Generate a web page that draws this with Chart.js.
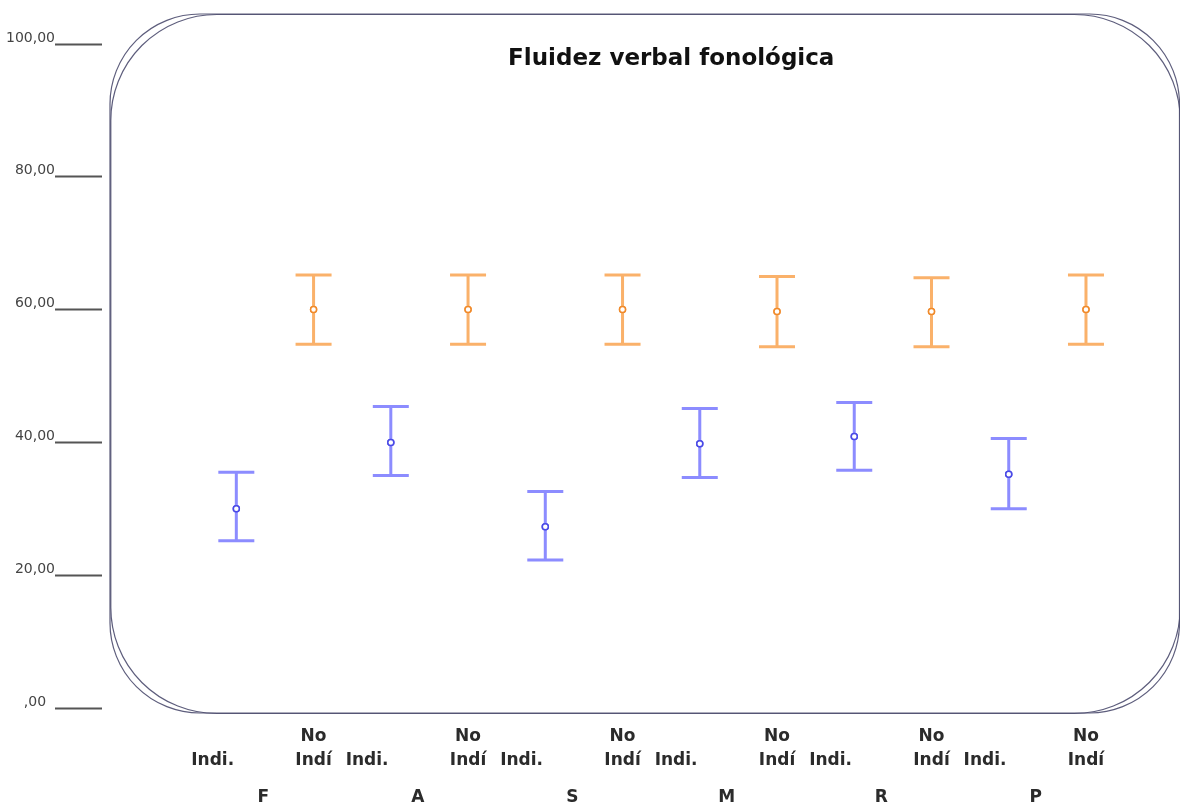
<!DOCTYPE html>
<html>
<head>
<meta charset="utf-8">
<script src="https://cdn.jsdelivr.net/npm/chart.js@4.4.0/dist/chart.umd.min.js"></script>
<style>
  html, body { margin: 0; padding: 0; background: #fff; }
  #wrap { width: 1180px; height: 807px; }
</style>
</head>
<body>
<div id="wrap"><canvas id="fluidezChart"></canvas></div>
<script>
// Chart values

const groups = ["F", "A", "S", "M", "R", "P"];
const conditions = ["Indi.", "No Indí"];
const yTicks = [0, 20, 40, 60, 80, 100];

// "Indi." series (blue)
const indiMean = [30.0, 40.0, 27.3, 39.8, 40.9, 35.2];
const indiLow = [25.2, 35.0, 22.3, 34.7, 35.8, 30.0];
const indiHigh = [35.5, 45.4, 32.6, 45.1, 46.0, 40.6];

// "No Indí" series (orange)
const noIndiMean = [60.0, 60.0, 60.0, 59.7, 59.7, 60.0];
const noIndiLow = [54.8, 54.8, 54.8, 54.4, 54.4, 54.8];
const noIndiHigh = [65.2, 65.2, 65.2, 65.0, 64.8, 65.2];

const COLORS = {
  blueBar: "rgba(120,120,255,0.85)",
  bluePoint: "#4a4ae6",
  orangeBar: "rgba(250,168,90,0.9)",
  orangePoint: "#f08a2a",
  frame: "rgba(75,75,110,0.9)",
  text: "#2b2b2b",
  axis: "#555",
};

const SANS = "'DejaVu Sans', Verdana, sans-serif";

function toPoints(means, offset) {
  return means.map((m, g) => ({ x: g * 2 + offset, y: m }));
}

// error bars drawn through the chart's own scales
const errorBarPlugin = {
  id: "errorBars",
  afterDatasetsDraw(chart) {
    const ctx = chart.ctx;
    const xs = chart.scales.x;
    const ys = chart.scales.y;
    const capHalf = 18;
    chart.data.datasets.forEach((ds) => {
      ctx.save();
      ctx.strokeStyle = ds.barColor;
      ctx.lineWidth = 3;
      ds.data.forEach((p, i) => {
        const px = xs.getPixelForValue(p.x);
        const yLo = ys.getPixelForValue(ds.low[i]);
        const yHi = ys.getPixelForValue(ds.high[i]);
        ctx.beginPath();
        ctx.moveTo(px, yLo);
        ctx.lineTo(px, yHi);
        ctx.moveTo(px - capHalf, yLo);
        ctx.lineTo(px + capHalf, yLo);
        ctx.moveTo(px - capHalf, yHi);
        ctx.lineTo(px + capHalf, yHi);
        ctx.stroke();
      });
      ctx.restore();
    });
    // redraw the centre points on top of the bars
    chart.data.datasets.forEach((ds, di) => {
      chart.getDatasetMeta(di).data.forEach((el) => el.draw(ctx));
    });
  },
};

// hand-drawn looking rounded frame plus the title
const framePlugin = {
  id: "frame",
  afterDraw(chart) {
    const ctx = chart.ctx;
    const ca = chart.chartArea;
    const l = ca.left + 8, t = ca.top - 30, r = ca.right + 5, b = ca.bottom + 5;
    ctx.save();
    ctx.strokeStyle = COLORS.frame;
    ctx.lineWidth = 1.2;
    [90, 106].forEach((rad, k) => {
      ctx.beginPath();
      ctx.roundRect(l + k * 0.8, t + k * 0.5, r - l, b - t, rad);
      ctx.stroke();
    });
    ctx.fillStyle = "#111";
    ctx.font = "bold 23px " + SANS;
    ctx.textAlign = "center";
    ctx.textBaseline = "middle";
    ctx.fillText("Fluidez verbal fonológica", (ca.left + ca.right) / 2 + 33, ca.top + 15);
    ctx.restore();
  },
};

const ctx = document.getElementById("fluidezChart").getContext("2d");

new Chart(ctx, {
  type: "scatter",
  data: {
    datasets: [
      {
        label: conditions[0],
        data: toPoints(indiMean, 0),
        low: indiLow,
        high: indiHigh,
        barColor: COLORS.blueBar,
        borderColor: COLORS.bluePoint,
        backgroundColor: "#fff",
        borderWidth: 1.5,
        pointRadius: 3,
      },
      {
        label: conditions[1],
        data: toPoints(noIndiMean, 1),
        low: noIndiLow,
        high: noIndiHigh,
        barColor: COLORS.orangeBar,
        borderColor: COLORS.orangePoint,
        backgroundColor: "#fff",
        borderWidth: 1.5,
        pointRadius: 3,
      },
    ],
  },
  options: {
    responsive: true,
    maintainAspectRatio: false,
    animation: false,
    layout: { padding: { top: 44, right: 0, bottom: 0, left: 0 } },
    plugins: {
      legend: { display: false },
      tooltip: { enabled: false },
      title: { display: false },
    },
    scales: {
      x: {
        type: "linear",
        position: "bottom",
        min: -1.739,
        max: 12.146,
        afterBuildTicks: (scale) => {
          scale.ticks = [];
          for (let i = 0; i < groups.length * 2; i++) scale.ticks.push({ value: i });
        },
        afterFit: (scale) => { scale.height = 70; },
        grid: { display: false, drawTicks: false },
        border: { display: false },
        ticks: {
          autoSkip: false,
          maxRotation: 0,
          padding: 16,
          color: COLORS.text,
          font: { family: SANS, size: 17, weight: "bold", lineHeight: 1.45 },
          // the "Indi." labels sit a little left of their marks in the original
          callback: (v) => (v % 2 === 0 ? ["", conditions[0] + "        "] : ["No", "Indí"]),
        },
      },
      x2: {
        type: "linear",
        position: "bottom",
        min: -1.739,
        max: 12.146,
        afterBuildTicks: (scale) => {
          scale.ticks = groups.map((g, i) => ({ value: i * 2 + 0.35 }));
        },
        afterFit: (scale) => { scale.height = 29; },
        grid: { display: false, drawTicks: false },
        border: { display: false },
        ticks: {
          autoSkip: false,
          maxRotation: 0,
          padding: 9,
          color: COLORS.text,
          font: { family: SANS, size: 17, weight: "bold" },
          callback: (v) => groups[Math.round((v - 0.35) / 2)],
        },
      },
      y: {
        min: 0,
        max: 100,
        afterBuildTicks: (scale) => {
          scale.ticks = yTicks.map((v) => ({ value: v }));
        },
        afterFit: (scale) => { scale.width = 102; },
        grid: {
          drawOnChartArea: false,
          drawTicks: true,
          tickLength: 47,
          tickColor: COLORS.axis,
          tickWidth: 2,
        },
        border: { display: false },
        ticks: {
          padding: 0,
          labelOffset: -6,
          color: "#444",
          font: { family: SANS, size: 14 },
          callback: (v) => (v === 0 ? ",00  " : v.toFixed(2).replace(".", ",")),
        },
      },
    },
  },
  plugins: [errorBarPlugin, framePlugin],
});
</script>
</body>
</html>
